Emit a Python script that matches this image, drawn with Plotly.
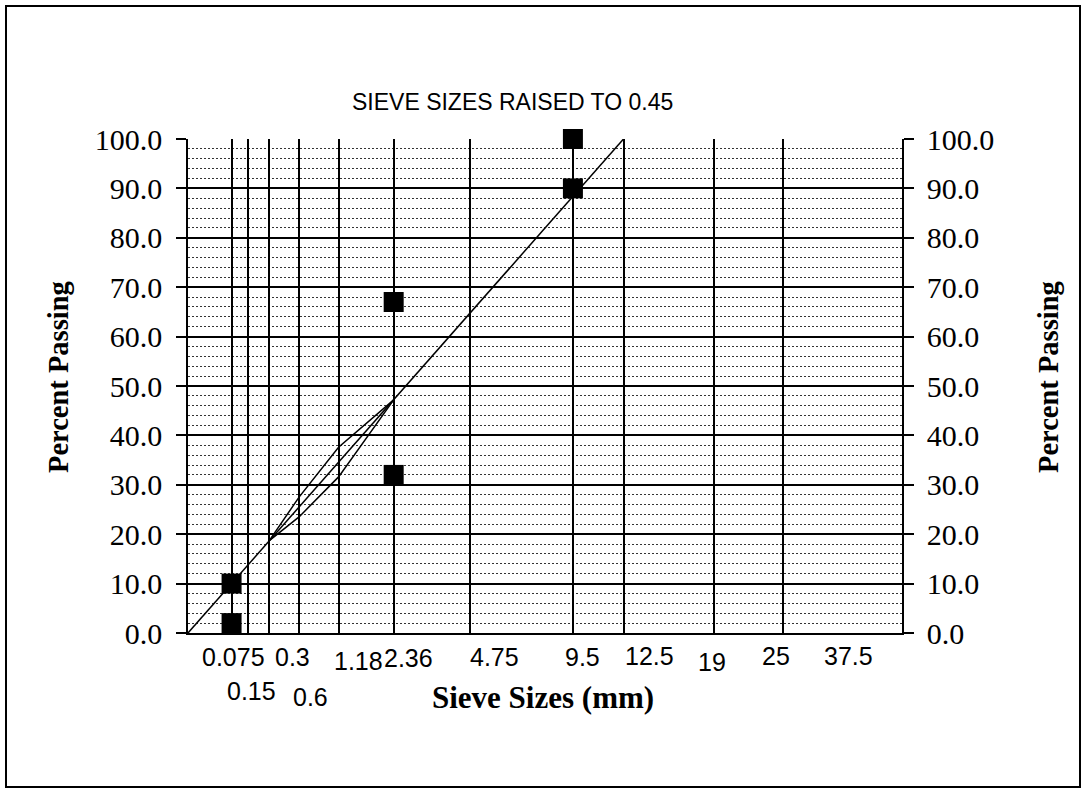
import plotly.graph_objects as go

# ---------------- data ----------------
EXPONENT = 0.45
sieve_mm = [0.075, 0.15, 0.3, 0.6, 1.18, 2.36, 4.75, 9.5, 12.5, 19, 25, 37.5]
sieve_labels = ["0.075", "0.15", "0.3", "0.6", "1.18", "2.36", "4.75", "9.5",
                "12.5", "19", "25", "37.5"]

# maximum density line
mdl_sieve = [0, 0.075, 0.15, 0.3, 0.6, 1.18, 2.36, 4.75, 9.5, 12.5]
mdl_pass = [0.0, 10.0, 13.7, 18.7, 25.5, 34.6, 47.2, 64.7, 88.4, 100.0]

# restricted zone
rz_sieve = [0.3, 0.6, 1.18, 2.36]
rz_upper = [18.7, 27.5, 37.6, 47.2]
rz_lower = [18.7, 23.5, 31.6, 47.2]

# control points
cp_sieve = [0.075, 0.075, 2.36, 2.36, 9.5, 9.5]
cp_pass = [10, 2, 67, 32, 100, 90]

y_ticks = [0, 10, 20, 30, 40, 50, 60, 70, 80, 90, 100]

# label placement tweaks (pixels)
label_xshift = [2, 4, 23, 11, 20, 15, 25, 10, 26, -2, -7, -54]
label_yshift = [-24, -58, -24, -64, -28, -25, -24, -24, -23, -29, -23, -23]

# ---------------- layout geometry ----------------
W, H = 1086, 792
L, R, T, B = 188, 184, 139, 159
PW, PH = W - L - R, H - T - B


def px_x(px):
    return (px - L) / PW


def px_y(py):
    return (H - B - py) / PH


def tx(v):
    return [s ** EXPONENT for s in v]


SERIF = "Liberation Serif, Times New Roman, serif"
SANS = "Liberation Sans, Arial, sans-serif"

fig = go.Figure()

fig.add_trace(go.Scatter(x=tx(mdl_sieve), y=mdl_pass, mode="lines",
                         line=dict(color="black", width=1.5),
                         hoverinfo="skip"))
fig.add_trace(go.Scatter(x=tx(rz_sieve), y=rz_upper, mode="lines",
                         line=dict(color="black", width=1.5),
                         hoverinfo="skip"))
fig.add_trace(go.Scatter(x=tx(rz_sieve), y=rz_lower, mode="lines",
                         line=dict(color="black", width=1.5),
                         hoverinfo="skip"))
fig.add_trace(go.Scatter(x=tx(cp_sieve), y=cp_pass, mode="markers",
                         marker=dict(symbol="square", size=20, color="black"),
                         cliponaxis=False))
# transparent copy on the right-hand axis so that it is drawn
fig.add_trace(go.Scatter(x=tx(cp_sieve), y=cp_pass, mode="markers", yaxis="y2",
                         marker=dict(symbol="square", size=1, opacity=0),
                         hoverinfo="skip"))

fig.update_layout(
    width=W, height=H,
    margin=dict(l=L, r=R, t=T, b=B, pad=0),
    paper_bgcolor="white", plot_bgcolor="white",
    showlegend=False,
    xaxis=dict(range=[0, max(sieve_mm) ** EXPONENT],
               tickvals=tx(sieve_mm), showticklabels=False, ticks="",
               showgrid=True, gridcolor="black", gridwidth=1.6,
               showline=True, linecolor="black", linewidth=1.6,
               zeroline=False, fixedrange=True),
    yaxis=dict(range=[0, 100], tickvals=y_ticks, tickformat=".1f",
               ticks="outside", ticklen=10, tickwidth=1.6, tickcolor="black",
               showline=True, linecolor="black", linewidth=1.6,
               showgrid=True, gridcolor="black", gridwidth=1.6,
               minor=dict(dtick=2, showgrid=True, gridcolor="#333",
                          griddash="2px,2px", gridwidth=1, ticks=""),
               tickfont=dict(family=SERIF, size=30, color="black"),
               ticklabelstandoff=8, zeroline=False),
    yaxis2=dict(range=[0, 100], tickvals=y_ticks, tickformat=".1f",
                overlaying="y", side="right",
                ticks="outside", ticklen=10, tickwidth=1.6, tickcolor="black",
                showline=True, linecolor="black", linewidth=1.6,
                showgrid=False, zeroline=False,
                tickfont=dict(family=SERIF, size=30, color="black"),
                ticklabelstandoff=7),
)

annotations = []
for s, lab, dx, dy in zip(sieve_mm, sieve_labels, label_xshift, label_yshift):
    annotations.append(dict(x=s ** EXPONENT, xref="x", y=0, yref="paper",
                            text=lab, showarrow=False, xanchor="center",
                            yanchor="middle", xshift=dx, yshift=dy,
                            font=dict(family=SANS, size=25, color="black")))

annotations.append(dict(x=px_x(512), y=px_y(102), xref="paper", yref="paper",
                        text="SIEVE SIZES RAISED TO 0.45", showarrow=False,
                        xanchor="center", yanchor="middle",
                        font=dict(family=SANS, size=23, color="black")))
annotations.append(dict(x=px_x(543), y=px_y(697), xref="paper", yref="paper",
                        text="Sieve Sizes (mm)", showarrow=False,
                        xanchor="center", yanchor="middle",
                        font=dict(family=SERIF, size=31, color="black",
                                  weight="bold")))
for cx in (58, 1048):
    annotations.append(dict(x=px_x(cx), y=px_y(377), xref="paper", yref="paper",
                            text="Percent Passing", showarrow=False,
                            textangle=-90, xanchor="center", yanchor="middle",
                            font=dict(family=SERIF, size=28.5, color="black",
                                      weight="bold")))
fig.update_layout(annotations=annotations)

fig.add_shape(type="rect", xref="paper", yref="paper",
              x0=px_x(6), x1=px_x(1080), y0=px_y(787), y1=px_y(6),
              line=dict(color="black", width=2), fillcolor="rgba(0,0,0,0)",
              layer="above")

fig.write_html("out.html")
